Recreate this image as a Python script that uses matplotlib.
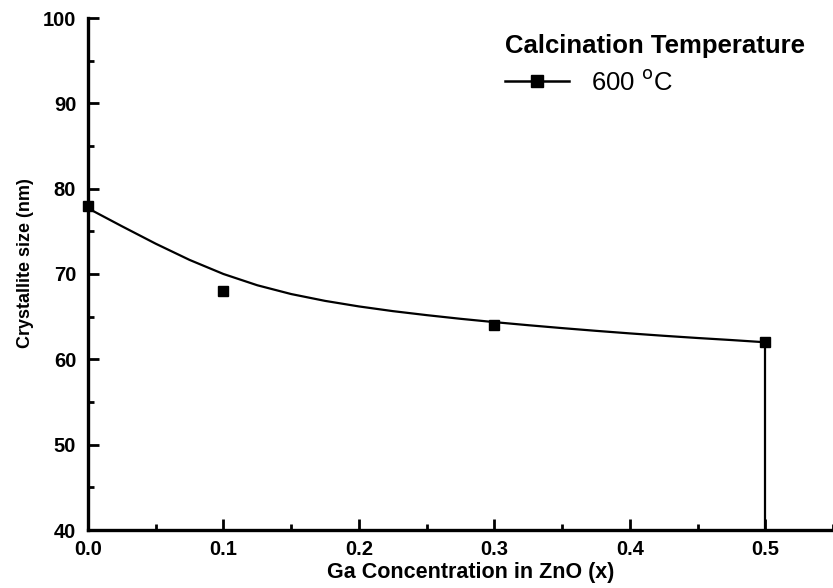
import matplotlib.pyplot as plt
from matplotlib.ticker import MultipleLocator
from matplotlib.lines import Line2D

plt.rcParams['font.family'] = ['Liberation Sans', 'DejaVu Sans']

# measured points
ga_conc = [0.0, 0.1, 0.3, 0.5]
cryst_size = [78, 68, 64, 62]

# fitted curve
fit_x = [0.0, 0.025, 0.05, 0.075, 0.1, 0.125, 0.15, 0.175, 0.2, 0.225, 0.25,
         0.275, 0.3, 0.325, 0.35, 0.375, 0.4, 0.425, 0.45, 0.475, 0.5]
fit_y = [77.7, 75.6, 73.55, 71.65, 70.0, 68.68, 67.65, 66.85, 66.2, 65.65, 65.18,
         64.75, 64.36, 64.0, 63.66, 63.34, 63.04, 62.76, 62.5, 62.26, 62.0]

legend_title = "Calcination Temperature"
series_label = r"600 $^{\mathrm{o}}$C"

W, H = 833, 588
fig = plt.figure(figsize=(W / 100, H / 100), dpi=100)
ax = fig.add_axes([88 / W, (H - 530) / H, (W - 88) / W, 512 / H])

ax.plot(fit_x, fit_y, color='black', lw=1.6)
# drop line from last point down to the axis
ax.plot([fit_x[-1], fit_x[-1]], [fit_y[-1], 40], color='black', lw=1.6)
ax.plot(ga_conc, cryst_size, 's', color='black', ms=7.5, ls='none', clip_on=False)

ax.set_xlim(0, 0.55)
ax.set_ylim(40, 100)
ax.xaxis.set_major_locator(MultipleLocator(0.1))
ax.xaxis.set_minor_locator(MultipleLocator(0.05))
ax.yaxis.set_major_locator(MultipleLocator(10))
ax.yaxis.set_minor_locator(MultipleLocator(5))
ax.xaxis.set_major_formatter(plt.FuncFormatter(lambda v, p: f"{v:.1f}"))

for s in ['top', 'right']:
    ax.spines[s].set_visible(False)
for s in ['left', 'bottom']:
    ax.spines[s].set_linewidth(2.4)

ax.tick_params(which='major', direction='in', length=8, width=2, labelsize=14.5)
ax.tick_params(which='minor', direction='in', length=4.5, width=2)
ax.tick_params(axis='x', which='major', pad=7)
ax.tick_params(axis='y', which='major', pad=8.5)
for lab in ax.get_xticklabels() + ax.get_yticklabels():
    lab.set_fontweight('bold')

ax.set_xlabel("Ga Concentration in ZnO (x)", fontsize=15.5, fontweight='bold')
ax.xaxis.set_label_coords(0.514, -0.0625)
ax.set_ylabel("Crystallite size (nm)", fontsize=13, fontweight='bold')
ax.yaxis.set_label_coords(-0.073, 0.522)

fig.text(505 / W, 1 - 46 / H, legend_title, fontsize=18.5, fontweight='bold',
         ha='left', va='center')
handle = Line2D([], [], color='black', marker='s', ms=9, lw=1.8)
ax.legend([handle], [series_label], loc='center left',
          bbox_to_anchor=(505 / W, 1 - 82 / H), bbox_transform=fig.transFigure,
          frameon=False, fontsize=18.5, handlelength=2.5, handletextpad=0.85,
          borderaxespad=0, borderpad=0)

fig.savefig("out.png", dpi=100)
